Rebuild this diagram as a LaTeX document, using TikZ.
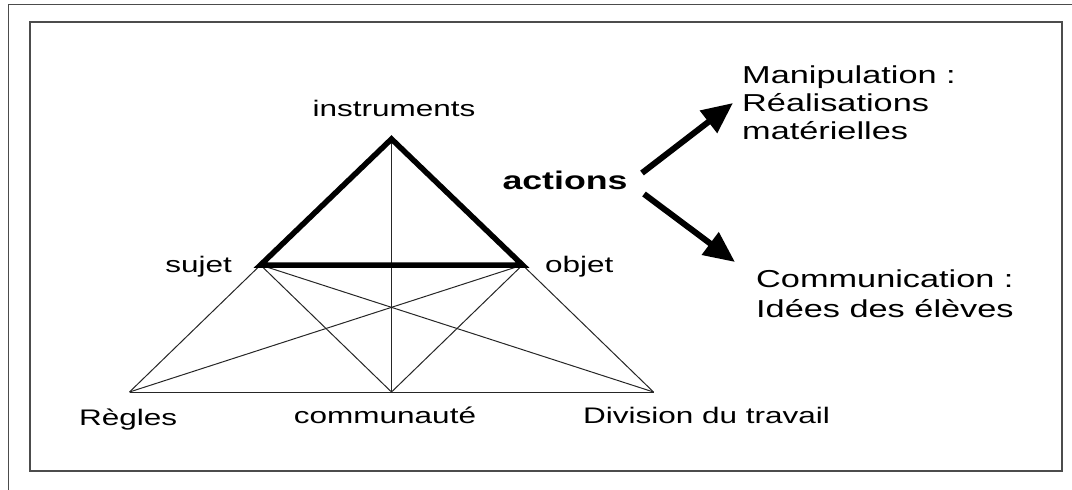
\documentclass[tikz,border=0pt]{standalone}
\usepackage{fontspec}
\setmainfont{Liberation Sans}[FakeStretch=1.4]
\usetikzlibrary{arrows.meta}
\begin{document}
\begin{tikzpicture}[x=1pt,y=-1pt,
  lbl/.style={inner sep=0pt,font=\fontsize{22.5}{28}\selectfont},
  rlbl/.style={inner sep=0pt,font=\fontsize{24.5}{28}\selectfont},
  thin/.style={line width=1pt,draw=black!85},
  thick/.style={line width=5.5pt,draw=black},
  bigarrow/.style={line width=6pt,-{Triangle[length=31pt,width=27pt]}},
  frame/.style={draw=black!70}]
\useasboundingbox (0,0) rectangle (1072,490);
% frames
\draw[frame,line width=1pt] (8,500) -- (8,4) -- (1080,4);
\draw[frame,line width=2pt] (30,22) rectangle (1062,471);
% vertices
\coordinate (I) at (391.5,139);
\coordinate (S) at (260.5,265);
\coordinate (O) at (522.5,265);
\coordinate (R) at (129.5,392);
\coordinate (C) at (391.5,392);
\coordinate (D) at (653.5,392);
% thin lines
\draw[thin] (R) -- (D);
\draw[thin] (R) -- (S) -- (C) -- (O) -- (D);
\draw[thin] (S) -- (D);
\draw[thin] (O) -- (R);
\draw[thin] (I) -- (C);
% thick triangle
\draw[thick] (I) -- (S) -- (O) -- cycle;
% labels
\node[lbl,anchor=base] (li) at (394,116) {instruments};
\node[lbl,anchor=base east] (ls) at (232,272) {sujet};
\node[lbl,anchor=base west] (lo) at (545,272) {objet};
\node[lbl,anchor=base west] (lr) at (79,425) {Règles};
\node[lbl,anchor=base] (lc) at (385,423) {communauté};
\node[lbl,anchor=base west] (ld) at (583,423) {Division du travail};
\node[lbl,anchor=base,font=\fontsize{25.5}{28}\selectfont\bfseries] (la) at (565,189) {actions};
% right texts
\node[rlbl,anchor=base west] (m1) at (742,83) {Manipulation :};
\node[rlbl,anchor=base west] (m2) at (742,111) {Réalisations};
\node[rlbl,anchor=base west] (m3) at (742,139) {matérielles};
\node[rlbl,anchor=base west] (c1) at (756,287) {Communication :};
\node[rlbl,anchor=base west] (c2) at (756,317) {Idées des élèves};
% arrows
\coordinate (a1s) at (642,173);
\coordinate (a1e) at (733,103);
\coordinate (a2s) at (644,194);
\coordinate (a2e) at (735,262);
\draw[bigarrow] (a1s) -- (a1e);
\draw[bigarrow] (a2s) -- (a2e);
\end{tikzpicture}
\end{document}
